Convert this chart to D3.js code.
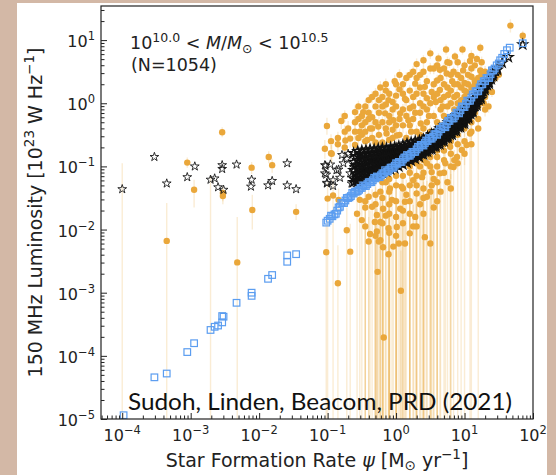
<!DOCTYPE html>
<html>
<head>
<meta charset="utf-8">
<script src="https://cdn.jsdelivr.net/npm/d3@7"></script>
<style>
  body { margin: 0; background: #d3b8a6; }
  svg { display: block; }
</style>
</head>
<body>
<div id="chart"></div>
<script>
// values, stored as log10(SFR), log10(L150)
const xTickExps = [-4, -3, -2, -1, 0, 1, 2];
const yTickExps = [-5, -4, -3, -2, -1, 0, 1];

// orange: measured luminosity [logSFR, logL, log lower end of bar, log upper end of bar]
const orange = [
  [1.67,1.23,1.12,1.33],[1.85,1.07,0.98,1.15],[1.23,0.88,0.80,0.95],[0.97,0.85,0.77,0.92],
  [0.73,0.85,0.77,0.93],[0.50,0.79,0.70,0.87],[0.62,0.71,0.63,0.79],[0.86,0.74,0.66,0.81],
  [0.78,0.64,0.56,0.72],[1.08,0.67,0.59,0.74],[0.30,0.62,0.52,0.71],[0.55,0.55,0.46,0.63],
  [0.64,0.53,0.44,0.61],[0.74,0.47,0.38,0.55],[0.84,0.50,0.42,0.58],[0.98,0.52,0.44,0.60],
  [1.15,0.36,0.27,0.44],[1.23,0.52,0.44,0.60],[1.32,0.18,0.10,0.26],[1.40,0.18,0.10,0.26],
  [-0.02,0.35,0.25,0.45],[-0.23,0.25,0.14,0.35],[0.28,0.31,0.21,0.40],[0.42,0.26,0.16,0.35],
  [0.52,0.18,0.08,0.27],[0.64,0.21,0.11,0.30],[0.76,0.13,0.03,0.22],[0.89,0.13,0.04,0.22],
  [1.03,0.18,0.09,0.27],[-0.11,0.05,-0.06,0.15],[0.13,0.07,-0.04,0.17],[0.35,0.00,-0.11,0.10],
  [0.20,-0.08,-0.19,0.02],[0.06,-0.16,-0.28,-0.05],[-0.60,-0.14,-0.26,-0.03],[-0.48,-0.14,-0.26,-0.03],
  [-0.16,-0.16,-0.28,-0.05],[-0.04,-0.27,-0.40,-0.15],[0.18,-0.27,-0.39,-0.16],[-0.26,-0.37,-0.50,-0.25],
  [-1.01,-0.36,-0.50,-0.23],[-0.38,-0.40,-0.53,-0.28],[-0.53,-0.45,-0.58,-0.33],[-0.14,-0.48,-0.62,-0.35],
  [0.01,-0.51,-0.65,-0.38],[-0.67,-0.56,-0.70,-0.43],[-1.04,-0.72,-0.88,-0.58],[-0.94,-0.80,-0.96,-0.66],
  [-0.74,-0.59,-0.74,-0.46],[-0.60,-0.66,-0.81,-0.52],[1.08,-0.48,-6,-0.36],[0.96,-0.74,-0.90,-0.60],
  [1.03,-0.66,-0.81,-0.53],[0.79,-0.69,-6,-0.55],[0.89,-0.85,-1.02,-0.70],[0.72,-0.95,-6,-0.79],
  [0.84,-1.01,-6,-0.84],[0.52,-1.09,-6,-0.90],[0.64,-1.11,-6,-0.93],[0.38,-1.17,-6,-0.97],
  [0.25,-1.22,-6,-1.02],[0.52,-1.30,-6,-1.08],[0.08,-1.32,-6,-1.10],[-0.09,-1.35,-6,-1.12],
  [-0.23,-1.40,-6,-1.16],[0.30,-1.43,-6,-1.19],[0.45,-1.48,-6,-1.23],[-0.40,-1.48,-6,-1.23],
  [-0.53,-1.53,-6,-1.27],[-0.06,-1.53,-6,-1.27],[0.13,-1.56,-6,-1.30],[-0.92,-1.46,-6,-1.21],
  [-0.35,-1.64,-6,-1.36],[-0.19,-1.67,-6,-1.38],[0.06,-1.67,-6,-1.38],[-0.57,-1.75,-6,-1.45],
  [-0.28,-1.77,-6,-1.46],[0.28,-1.80,-6,-1.48],[-0.72,-2.01,-6,-1.65],[-0.31,-1.88,-6,-1.55],
  [-0.23,-1.88,-6,-1.55],[-0.11,-1.98,-6,-1.63],[0.01,-1.96,-6,-1.62],[0.20,-2.06,-6,-1.70],
  [0.42,-2.12,-6,-1.74],[-0.23,-2.17,-6,-1.78],[-0.40,-2.19,-6,-1.80],[-0.04,-2.27,-6,-1.85],
  [0.13,-2.22,-6,-1.82],[-0.38,-2.07,-6,-1.70],[-0.28,-2.03,-6,-1.67],[-0.25,-2.19,-6,-1.80],
  [-0.19,-2.28,-6,-1.86],[-0.11,-2.39,-6,-1.94],[0.04,-2.22,-6,-1.82],[0.50,-2.22,-6,-1.82],
  [-1.02,-2.36,-6,-1.92],[-0.67,-2.35,-6,-1.91],[-0.27,-2.67,-6,-2.12],[-0.85,-2.85,-6,-2.25],
  [0.07,-2.97,-6,-2.33],[-0.18,-3.71,-6,-2.80],[-1.00,-1.51,-6,-1.25],[-0.84,-1.53,-1.75,-1.35],
  [-0.95,-0.79,-0.93,-0.66],[-0.45,-0.30,-0.42,-0.19],[-0.35,-0.22,-0.34,-0.11],[-0.30,-0.05,-0.16,0.05],
  [-0.15,-0.02,-0.13,0.08],[0.00,0.12,0.02,0.22],[0.10,-0.35,-0.47,-0.24],[0.22,-0.45,-0.58,-0.33],
  [0.28,-0.15,-0.27,-0.04],[0.36,-0.32,-0.44,-0.21],[0.40,-0.05,-0.16,0.05],[0.45,0.08,-0.02,0.18],
  [0.48,-0.20,-0.32,-0.09],[0.58,0.02,-0.08,0.12],[0.60,0.36,0.27,0.45],[0.70,0.30,0.21,0.39],
  [0.35,0.45,0.36,0.54],[0.15,0.40,0.31,0.49],[0.05,0.22,0.12,0.32],[-0.10,-0.58,-0.72,-0.45],
  [-0.20,-0.62,-0.76,-0.49],[-0.42,-0.58,-0.72,-0.45],[-0.50,-0.35,-0.47,-0.24],[-0.80,-0.28,-0.41,-0.16],
  [-0.70,-0.40,-0.53,-0.28],[0.68,-0.05,-0.16,0.05],[0.90,0.30,0.21,0.39],[1.00,0.32,0.23,0.41],
  [1.10,0.42,0.34,0.50],[0.82,0.35,0.26,0.44],[0.95,-0.30,-6,-0.19],[1.15,-0.15,-0.26,-0.05],
  [1.20,-0.25,-0.36,-0.15],[1.28,0.00,-0.10,0.09],[1.35,-0.05,-0.15,0.04],[1.45,0.40,0.32,0.48],
  [1.50,0.45,0.37,0.53],[1.18,0.70,0.62,0.77],[0.40,0.68,0.59,0.76],[0.25,0.50,0.41,0.59],
  [-0.05,-0.42,-0.55,-0.30],[0.60,-0.85,-6,-0.71],[0.70,-0.75,-0.91,-0.61],[0.45,-0.95,-6,-0.79],
  [0.35,-1.00,-6,-0.83],[0.20,-1.10,-6,-0.91],[0.00,-1.15,-6,-0.96],[-0.15,-1.25,-6,-1.04],
  [1.10,-0.65,-6,-0.51],[0.55,-1.20,-6,-1.00],[0.65,-1.40,-6,-1.16],[0.40,-1.35,-6,-1.12],
  [0.15,-1.45,-6,-1.21],[-0.10,-1.60,-6,-1.33],[0.35,-1.60,-6,-1.33],[0.00,-1.80,-6,-1.49],
  [-0.45,-1.65,-6,-1.37],[-0.50,-1.85,-6,-1.53],[0.25,-1.95,-6,-1.61],[-0.15,-1.78,-6,-1.47],
  [0.55,-1.65,-6,-1.37],[0.75,-1.25,-6,-1.04],[0.85,-0.90,-1.08,-0.74],
  // low star formation rates
  [-3.05,-0.94,-1.02,-0.86],[-2.95,-1.37,-1.65,-1.21],[-2.54,-0.46,-0.54,-0.38],[-2.53,-1.42,-1.55,-1.32],
  [-2.53,-1.47,-1.60,-1.36],[-2.11,-1.02,-1.12,-0.93],[-2.10,-1.69,-2.00,-1.45],[-1.86,-0.85,-0.95,-0.76],
  [-1.81,-0.98,-1.10,-0.88],[-1.46,-1.72,-1.85,-1.60],[-3.35,-2.18,-6,-1.58],[-2.32,-2.52,-6,-1.80],
  // centres below the axis, only the bars show
  [-4.00,-5.60,-6,-0.95],[-2.71,-5.60,-6,-1.15]
];

// orange, the crowded cloud above the model band
const orangeAbove = [
  [-0.60,-0.30,-0.40,-0.21],[-0.60,-0.45,-0.56,-0.35],[-0.55,-0.25,-0.35,-0.16],[-0.55,-0.55,-0.66,-0.45],[-0.55,-0.05,-0.15,0.04],
  [-0.50,-0.20,-0.30,-0.11],[-0.50,-0.50,-0.61,-0.40],[-0.45,-0.05,-0.15,0.04],[-0.45,-0.45,-0.56,-0.35],[-0.45,-0.60,-0.72,-0.49],
  [-0.40,-0.25,-0.35,-0.16],[-0.40,0.05,-0.05,0.14],[-0.40,-0.15,-0.25,-0.06],[-0.35,-0.40,-0.51,-0.30],[-0.35,-0.55,-0.66,-0.45],
  [-0.35,0.10,0.00,0.19],[-0.30,-0.30,-0.40,-0.21],[-0.30,0.15,0.05,0.24],[-0.30,-0.62,-0.74,-0.51],[-0.25,-0.15,-0.25,-0.06],
  [-0.25,-0.50,-0.61,-0.40],[-0.25,0.05,-0.05,0.14],[-0.20,-0.30,-0.40,-0.21],[-0.20,0.10,0.00,0.19],[-0.20,-0.05,-0.15,0.04],
  [-0.15,-0.40,-0.51,-0.30],[-0.15,0.20,0.10,0.29],[-0.15,0.30,0.20,0.39],[-0.10,-0.20,-0.30,-0.11],[-0.10,-0.30,-0.40,-0.21],
  [-0.10,0.15,0.05,0.24],[-0.05,-0.10,-0.20,-0.01],[-0.05,0.02,-0.08,0.11],[-0.05,-0.55,-0.66,-0.45],[0.00,-0.35,-0.46,-0.25],
  [0.00,-0.05,-0.15,0.04],[0.00,0.30,0.20,0.39],[0.05,-0.25,-0.35,-0.16],[0.05,0.45,0.36,0.54],[0.05,-0.50,-0.61,-0.40],
  [0.10,-0.10,-0.20,-0.01],[0.10,0.15,0.05,0.24],[0.10,0.30,0.20,0.39],[0.15,-0.20,-0.30,-0.11],[0.15,-0.55,-0.66,-0.45],
  [0.15,0.05,-0.05,0.14],[0.20,-0.35,-0.46,-0.25],[0.20,0.20,0.10,0.29],[0.20,0.45,0.36,0.54],[0.25,-0.05,-0.15,0.04],
  [0.25,-0.25,-0.35,-0.16],[0.25,0.10,0.00,0.19],[0.30,-0.45,-0.56,-0.35],[0.30,0.15,0.05,0.24],[0.30,0.40,0.31,0.49],
  [0.35,-0.15,-0.25,-0.06],[0.35,0.25,0.15,0.34],[0.35,-0.50,-0.61,-0.40],[0.40,-0.40,-0.51,-0.30],[0.40,0.15,0.05,0.24],
  [0.40,0.50,0.41,0.59],[0.45,-0.10,-0.20,-0.01],[0.45,-0.30,-0.40,-0.21],[0.45,0.35,0.26,0.44],[0.50,0.00,-0.10,0.09],
  [0.50,-0.45,-0.56,-0.35],[0.50,0.55,0.46,0.64],[0.55,-0.20,-0.30,-0.11],[0.55,0.30,0.21,0.39],[0.55,0.10,0.00,0.19],
  [0.60,-0.30,-0.40,-0.21],[0.60,0.15,0.05,0.24],[0.60,0.60,0.51,0.69],[0.65,-0.10,-0.20,-0.01],[0.65,0.40,0.31,0.49],
  [0.65,0.05,-0.05,0.14],[0.70,-0.20,-0.30,-0.11],[0.70,0.10,0.00,0.19],[0.70,0.55,0.46,0.64],[0.75,-0.05,-0.15,0.04],
  [0.75,0.25,0.16,0.34],[0.75,0.65,0.56,0.74],[0.80,0.00,-0.10,0.09],[0.80,0.20,0.11,0.29],[0.80,0.45,0.36,0.54],
  [0.85,-0.10,-0.20,-0.01],[0.85,0.10,0.01,0.19],[0.85,0.30,0.21,0.39],[0.90,0.00,-0.10,0.09],[0.90,0.45,0.36,0.54],
  [0.90,0.65,0.56,0.74],[0.95,0.05,-0.05,0.14],[0.95,0.25,0.16,0.34],[0.95,0.40,0.31,0.49],[1.00,0.10,0.01,0.19],
  [1.00,0.60,0.51,0.69],[1.00,0.20,0.11,0.29],[1.05,0.30,0.21,0.39],[1.05,0.45,0.36,0.54],[1.10,0.25,0.16,0.34],
  [1.10,0.55,0.46,0.64],[1.10,0.75,0.66,0.84],[1.15,0.30,0.21,0.39],[1.15,0.60,0.51,0.69],[1.20,0.40,0.31,0.49],
  [1.20,0.35,0.26,0.44],[1.25,0.45,0.36,0.54],[1.25,0.65,0.56,0.74],[1.30,0.50,0.41,0.59],[-0.75,-0.45,-0.56,-0.35],
  [-0.75,-0.70,-0.82,-0.59],[-0.75,-0.20,-0.30,-0.11],[-0.85,-0.55,-0.66,-0.45],[-0.85,-0.65,-0.77,-0.54],[-0.95,-0.60,-0.72,-0.49]
];

// orange, below the model band
const orangeBelow = [
  [-0.45,-1.55,-6,-1.28],[-0.45,-1.95,-6,-1.60],[-0.30,-1.45,-6,-1.20],[-0.30,-1.60,-6,-1.33],[-0.30,-2.10,-6,-1.72],
  [-0.20,-1.25,-6,-1.04],[-0.20,-1.50,-6,-1.25],[-0.20,-1.90,-6,-1.56],[-0.10,-1.20,-1.42,-1.00],[-0.10,-1.40,-6,-1.16],
  [-0.10,-1.75,-6,-1.45],[-0.10,-2.05,-6,-1.68],[0.00,-1.30,-6,-1.08],[0.00,-1.55,-6,-1.29],[0.00,-2.10,-6,-1.72],
  [0.10,-1.15,-1.37,-0.96],[0.10,-1.35,-6,-1.12],[0.10,-1.70,-6,-1.41],[0.10,-1.90,-6,-1.56],[0.20,-1.00,-1.20,-0.83],
  [0.20,-1.30,-6,-1.08],[0.20,-1.55,-6,-1.29],[0.20,-1.75,-6,-1.45],[0.30,-0.95,-1.14,-0.79],[0.30,-1.15,-6,-0.96],
  [0.30,-1.30,-6,-1.08],[0.30,-1.95,-6,-1.60],[0.40,-0.90,-1.08,-0.74],[0.40,-1.10,-6,-0.91],[0.40,-1.50,-6,-1.25],
  [0.40,-1.75,-6,-1.45],[0.50,-0.85,-1.02,-0.70],[0.50,-1.00,-6,-0.83],[0.50,-1.40,-6,-1.16],[0.60,-0.75,-0.91,-0.61],
  [0.60,-1.00,-6,-0.83],[0.60,-1.25,-6,-1.04],[0.60,-1.55,-6,-1.29],[0.70,-0.65,-0.80,-0.52],[0.70,-0.90,-1.08,-0.74],
  [0.70,-1.10,-6,-0.91],[0.80,-0.60,-0.75,-0.47],[0.80,-0.80,-6,-0.65],[0.80,-1.00,-1.20,-0.83],[0.80,-1.35,-6,-1.12],
  [0.90,-0.50,-0.64,-0.37],[0.90,-0.65,-0.80,-0.52],[0.90,-0.95,-6,-0.79],[1.00,-0.40,-0.53,-0.28],[1.00,-0.60,-6,-0.47],
  [1.00,-0.80,-0.98,-0.65],[1.10,-0.30,-0.42,-0.19],[1.10,-0.45,-0.59,-0.33],[1.20,-0.05,-0.16,0.05],[1.20,-0.40,-6,-0.28],
  [1.30,0.10,0.00,0.19],[1.30,-0.10,-0.21,0.00]
];

// blue open squares
const blueLow = [
  [-3.98,-4.94],[-3.53,-4.34],[-3.35,-4.28],[-3.05,-3.94],[-2.95,-3.80],[-2.71,-3.59],[-2.65,-3.54],
  [-2.60,-3.52],[-2.54,-3.47],[-2.54,-3.37],[-2.52,-3.38],[-2.33,-3.16],[-2.11,-3.05],[-2.11,-3.00],
  [-1.87,-2.78],[-1.81,-2.72],[-1.59,-2.51],[-1.59,-2.41],[-1.46,-2.39]
];
const blueBand = [
  [-1.02,-1.89],[-1.00,-1.86],[-0.97,-1.83],[-0.93,-1.79],[-0.90,-1.76],[-0.86,-1.70],[-0.82,-1.64],
  [-0.78,-1.58],[-0.74,-1.54],[-0.70,-1.50],[-0.66,-1.47],[-0.62,-1.43],[-0.58,-1.40],[-0.54,-1.37],
  [-0.50,-1.34],[-0.46,-1.31],[-0.42,-1.28],[-0.38,-1.25],[-0.34,-1.22],[-0.30,-1.19],[-0.26,-1.17],
  [-0.22,-1.14],[-0.18,-1.11],[-0.14,-1.08],[-0.10,-1.05],[-0.06,-1.02],[-0.02,-0.99],[0.02,-0.96],
  [0.06,-0.93],[0.10,-0.89],[0.14,-0.86],[0.18,-0.83],[0.22,-0.80],[0.26,-0.77],[0.30,-0.73],
  [0.34,-0.70],[0.38,-0.66],[0.42,-0.63],[0.46,-0.60],[0.50,-0.56],[0.54,-0.53],[0.58,-0.49],
  [0.62,-0.45],[0.66,-0.41],[0.70,-0.37],[0.74,-0.33],[0.78,-0.28],[0.82,-0.24],[0.86,-0.20],
  [0.90,-0.15],[0.94,-0.11],[0.98,-0.06],[1.02,-0.01],[1.06,0.04],[1.10,0.09],[1.14,0.14],
  [1.18,0.19],[1.22,0.25],[1.26,0.30],[1.30,0.35],[1.34,0.40],[1.38,0.46],[1.42,0.52],
  [1.47,0.60],[1.52,0.68],[1.58,0.78],[1.66,0.88],[1.85,0.95],
  [-0.95,-1.78],[-0.80,-1.58],[-0.64,-1.42],[-0.48,-1.30],[-0.32,-1.18],[-0.16,-1.06],[0.00,-0.95],
  [0.16,-0.82],[0.32,-0.69],[0.48,-0.55],[0.64,-0.41],[0.80,-0.23],[0.96,-0.05],[1.12,0.14],[1.28,0.35],
  [-0.88,-1.75],[-0.84,-1.65],[-0.76,-1.58],[-0.72,-1.50],[-0.68,-1.49],[-0.60,-1.40],[-0.56,-1.39],
  [-0.52,-1.34],[-0.44,-1.31],[-0.40,-1.25],[-0.36,-1.25],[-0.28,-1.16],[-0.24,-1.17],[-0.20,-1.11],
  [-0.12,-1.08],[-0.08,-1.02],[-0.04,-1.02],[0.04,-0.93],[0.08,-0.93],[0.12,-0.86],[0.20,-0.83],
  [0.24,-0.77],[0.28,-0.77],[0.36,-0.66],[0.40,-0.67],[0.44,-0.59],[0.52,-0.56],[0.56,-0.49],
  [0.60,-0.50],[0.68,-0.37],[0.72,-0.38],[0.76,-0.28],[0.84,-0.24],[0.88,-0.15],[0.92,-0.16],
  [1.00,-0.06],[1.04,0.04],[1.08,0.04],[1.16,0.19],[1.20,0.19],[1.24,0.30],[1.32,0.40],[1.36,0.40],
  [1.40,0.52],[1.44,0.55],[1.50,0.63],[1.55,0.72],[1.62,0.84]
];

// black open stars
const starsLow = [
  [-4.00,-1.36],[-3.53,-0.85],[-3.35,-1.27],[-3.05,-1.17],[-2.94,-1.00],[-2.71,-1.21],[-2.65,-1.19],
  [-2.60,-1.33],[-2.54,-0.98],[-2.54,-1.04],[-2.52,-1.37],[-2.33,-0.97],[-2.11,-1.21],[-2.12,-1.32],
  [-1.87,-1.30],[-1.81,-1.23],[-1.59,-0.95],[-1.59,-1.30],[-1.46,-1.36]
];
const starsCluster = [
  [-1.04,-0.98],[-1.04,-1.11],[-1.01,-1.27],[-0.92,-1.22],[-0.87,-1.06],[-0.77,-0.95],[-0.79,-0.82],
  [-0.72,-0.88],[-0.67,-1.11],[-0.62,-1.01],[-0.57,-1.22],[-0.65,-1.27],[-1.03,-0.99],[-0.96,-0.97],
  [-0.84,-1.05],[-1.02,-1.13],[-1.01,-1.26],[-0.92,-1.31],[-0.70,-0.80],[-0.82,-1.18]
];
// dense band: [logSFR, [logL ...]]
const starBand = [
  [-0.62,[-0.79,-0.93,-1.06,-1.19,-1.25]],[-0.56,[-0.76,-0.90,-1.03,-1.15,-1.24]],
  [-0.50,[-0.75,-0.88,-1.00,-1.12,-1.22]],[-0.44,[-0.74,-0.86,-0.98,-1.09,-1.19]],
  [-0.38,[-0.73,-0.85,-0.96,-1.07,-1.17]],[-0.32,[-0.73,-0.84,-0.95,-1.05,-1.14]],
  [-0.26,[-0.72,-0.83,-0.93,-1.03,-1.12]],[-0.20,[-0.71,-0.82,-0.92,-1.01,-1.10]],
  [-0.14,[-0.71,-0.81,-0.90,-0.99,-1.08]],[-0.08,[-0.70,-0.80,-0.89,-0.97,-1.05]],
  [-0.02,[-0.69,-0.78,-0.87,-0.95,-1.03]],[0.04,[-0.68,-0.77,-0.85,-0.93,-1.00]],
  [0.10,[-0.66,-0.75,-0.83,-0.90,-0.97]],[0.16,[-0.64,-0.73,-0.81,-0.88,-0.94]],
  [0.22,[-0.62,-0.71,-0.79,-0.86,-0.91]],[0.28,[-0.60,-0.69,-0.76,-0.83,-0.88]],
  [0.34,[-0.59,-0.67,-0.74,-0.80,-0.85]],[0.40,[-0.57,-0.65,-0.71,-0.77,-0.81]],
  [0.46,[-0.53,-0.61,-0.68,-0.73,-0.77]],[0.52,[-0.49,-0.57,-0.64,-0.70,-0.73]],
  [0.58,[-0.45,-0.53,-0.60,-0.66,-0.69]],[0.64,[-0.40,-0.48,-0.55,-0.61,-0.65]],
  [0.70,[-0.35,-0.43,-0.50,-0.56,-0.60]],[0.76,[-0.30,-0.38,-0.45,-0.51,-0.55]],
  [0.82,[-0.25,-0.33,-0.40,-0.46,-0.50]],[0.88,[-0.19,-0.27,-0.34,-0.40,-0.44]],
  [0.94,[-0.14,-0.22,-0.29,-0.34,-0.38]],[1.00,[-0.08,-0.16,-0.23,-0.28,-0.32]],
  [1.06,[-0.02,-0.10,-0.16,-0.21,-0.24]],[1.12,[0.05,-0.02,-0.08,-0.12,-0.14]],
  [1.18,[0.13,0.06,0.01,-0.03]],[1.24,[0.21,0.15,0.10,0.07]],[1.30,[0.30,0.25,0.21]],
  [1.36,[0.38,0.34,0.31]],[1.42,[0.47,0.43]],[1.48,[0.56,0.53]],[1.55,[0.64]],[1.64,[0.73]],[1.85,[0.93]],
  [-0.59,[-0.84,-0.98,-1.11,-1.22]],[-0.53,[-0.81,-0.94,-1.06,-1.18]],[-0.47,[-0.80,-0.92,-1.04,-1.15]],
  [-0.41,[-0.79,-0.90,-1.02,-1.12]],[-0.35,[-0.78,-0.89,-1.00,-1.10]],[-0.29,[-0.77,-0.88,-0.98,-1.08]],
  [-0.23,[-0.76,-0.87,-0.97,-1.06]],[-0.17,[-0.76,-0.86,-0.95,-1.04]],[-0.11,[-0.75,-0.85,-0.93,-1.02]],
  [-0.05,[-0.74,-0.83,-0.91,-1.00]],[0.01,[-0.72,-0.81,-0.89,-0.97]],[0.07,[-0.71,-0.80,-0.87,-0.94]],
  [0.13,[-0.69,-0.78,-0.85,-0.92]],[0.19,[-0.67,-0.76,-0.83,-0.89]],[0.25,[-0.65,-0.73,-0.80,-0.86]],
  [0.31,[-0.63,-0.71,-0.78,-0.83]],[0.37,[-0.61,-0.69,-0.75,-0.80]],[0.43,[-0.58,-0.66,-0.72,-0.77]],
  [0.49,[-0.54,-0.62,-0.68,-0.73]],[0.55,[-0.50,-0.58,-0.64,-0.69]],[0.61,[-0.45,-0.53,-0.60,-0.65]],
  [0.67,[-0.40,-0.48,-0.55,-0.60]],[0.73,[-0.35,-0.43,-0.50,-0.55]],[0.79,[-0.30,-0.38,-0.45,-0.50]],
  [0.85,[-0.24,-0.32,-0.39,-0.44]],[0.91,[-0.18,-0.26,-0.33,-0.38]],[0.97,[-0.13,-0.20,-0.27,-0.32]],
  [1.03,[-0.07,-0.14,-0.20,-0.25]],[1.09,[0.00,-0.07,-0.13,-0.17]],[1.15,[0.08,0.02,-0.04]],
  [1.21,[0.17,0.11,0.05]],[1.27,[0.25,0.19]],[1.33,[0.34,0.29]],[1.39,[0.43,0.38]],[1.45,[0.51]]
];

const W = 556, H = 475;
const P = v => Math.pow(10, v);
const frame = { left: 101, right: 533, top: 6, bottom: 419 };

const svg = d3.select("#chart").append("svg").attr("width", W).attr("height", H);
svg.append("rect").attr("width", W).attr("height", H).attr("fill", "#d3b8a6");
svg.append("rect").attr("x", 17).attr("y", 3).attr("width", 530).attr("height", H - 3).attr("fill", "#fff");

const x = d3.scaleLog().domain([P(-4.31), 100]).range([frame.left, frame.right]);
const y = d3.scaleLog().domain([1e-5, P(1.54)]).range([frame.bottom, frame.top]);

svg.append("clipPath").attr("id", "clip").append("rect")
  .attr("x", frame.left).attr("y", frame.top)
  .attr("width", frame.right - frame.left).attr("height", frame.bottom - frame.top);

const plot = svg.append("g").attr("clip-path", "url(#clip)");
const allOrange = orange.concat(orangeAbove, orangeBelow);

// error bars
plot.append("g").selectAll("line").data(allOrange).join("line")
  .attr("x1", d => x(P(d[0]))).attr("x2", d => x(P(d[0])))
  .attr("y1", d => y(P(d[2]))).attr("y2", d => y(P(d[3])))
  .attr("stroke", "rgba(234,167,58,0.22)").attr("stroke-width", 1.4);

plot.append("g").selectAll("circle").data(allOrange).join("circle")
  .attr("cx", d => x(P(d[0]))).attr("cy", d => y(P(d[1])))
  .attr("r", 3.2).attr("fill", "#eaa73a");

// isolated stars are thin outlines, the crowded band reads as solid black
const starThin = d3.symbol().type(d3.symbolStar).size(24);
const starBold = d3.symbol().type(d3.symbolStar).size(28);
plot.append("g").selectAll("path").data(starsLow.concat(starsCluster)).join("path")
  .attr("transform", d => `translate(${x(P(d[0]))},${y(P(d[1]))})`)
  .attr("d", starThin).attr("fill", "none").attr("stroke", "#1a1a1a").attr("stroke-width", 0.9);
plot.append("g").selectAll("path").data(starBand.flatMap(c => c[1].map(v => [c[0], v]))).join("path")
  .attr("transform", d => `translate(${x(P(d[0]))},${y(P(d[1]))})`)
  .attr("d", starBold).attr("fill", "none").attr("stroke", "#111").attr("stroke-width", 1.3);

const blue = blueLow.concat(blueBand);
plot.append("g").selectAll("rect").data(blue).join("rect")
  .attr("x", d => x(P(d[0])) - 3.3).attr("y", d => y(P(d[1])) - 3.3)
  .attr("width", 6.6).attr("height", 6.6)
  .attr("fill", "none").attr("stroke", "#5b9df0").attr("stroke-width", 1.2);

// axes, ticks pointing inwards
const minorOf = (lo, hi) => d3.range(lo, hi).flatMap(e => d3.range(2, 10).map(k => k * P(e)));
const xMinor = minorOf(-5, 2).filter(v => v > x.domain()[0] && v < x.domain()[1]);
const yMinor = minorOf(-5, 2).filter(v => v > y.domain()[0] && v < y.domain()[1]);

const gx = svg.append("g").attr("transform", `translate(0,${frame.bottom})`);
gx.append("g").call(d3.axisBottom(x).tickValues(xTickExps.map(P)).tickSize(-6).tickFormat(""));
gx.append("g").call(d3.axisBottom(x).tickValues(xMinor).tickSize(-3.5).tickFormat(""));
const gy = svg.append("g").attr("transform", `translate(${frame.left},0)`);
gy.append("g").call(d3.axisLeft(y).tickValues(yTickExps.map(P)).tickSize(-6).tickFormat(""));
gy.append("g").call(d3.axisLeft(y).tickValues(yMinor).tickSize(-3.5).tickFormat(""));
svg.selectAll(".domain").remove();
svg.selectAll(".tick line").attr("stroke", "#222");

svg.append("rect")
  .attr("x", frame.left).attr("y", frame.top)
  .attr("width", frame.right - frame.left).attr("height", frame.bottom - frame.top)
  .attr("fill", "none").attr("stroke", "#222").attr("stroke-width", 1.2);

const font = "DejaVu Sans, sans-serif";
const expText = e => (e < 0 ? "\u2212" + (-e) : String(e));

function powLabel(sel, exp) {
  sel.append("tspan").text("10");
  sel.append("tspan").attr("dy", -7).attr("font-size", 11.5).text(expText(exp));
}

svg.append("g").selectAll("text").data(xTickExps).join("text")
  .attr("x", d => x(P(d))).attr("y", 441)
  .attr("text-anchor", "middle").attr("font-family", font).attr("font-size", 16).attr("fill", "#222")
  .each(function (d) { powLabel(d3.select(this), d); });

svg.append("g").selectAll("text").data(yTickExps).join("text")
  .attr("x", 95).attr("y", d => y(P(d)) + 7)
  .attr("text-anchor", "end").attr("font-family", font).attr("font-size", 16).attr("fill", "#222")
  .each(function (d) { powLabel(d3.select(this), d); });

// axis titles
const yl = svg.append("text")
  .attr("transform", `translate(42,${(frame.top + frame.bottom) / 2}) rotate(-90)`)
  .attr("text-anchor", "middle").attr("font-family", font).attr("font-size", 19).attr("fill", "#222");
yl.append("tspan").text("150 MHz Luminosity [10");
yl.append("tspan").attr("dy", -8).attr("font-size", 13.5).text("23");
yl.append("tspan").attr("dy", 8).text(" W Hz");
yl.append("tspan").attr("dy", -8).attr("font-size", 13.5).text("\u22121");
yl.append("tspan").attr("dy", 8).text("]");

const xl = svg.append("text")
  .attr("x", (frame.left + frame.right) / 2).attr("y", 467)
  .attr("text-anchor", "middle").attr("font-family", font).attr("font-size", 19).attr("fill", "#222");
xl.append("tspan").text("Star Formation Rate ");
xl.append("tspan").attr("font-style", "italic").text("\u03c8");
xl.append("tspan").text(" [M");
xl.append("tspan").attr("dy", 3).attr("font-size", 13.5).text("\u2299");
xl.append("tspan").attr("dy", -3).text(" yr");
xl.append("tspan").attr("dy", -8).attr("font-size", 13.5).text("\u22121");
xl.append("tspan").attr("dy", 8).text("]");

// mass bin annotation
const a1 = svg.append("text").attr("x", 130).attr("y", 49)
  .attr("font-family", font).attr("font-size", 17.5).attr("fill", "#222");
a1.append("tspan").text("10");
a1.append("tspan").attr("dy", -7.5).attr("font-size", 12.5).text("10.0");
a1.append("tspan").attr("dy", 7.5).text(" < ");
a1.append("tspan").attr("font-style", "italic").text("M");
a1.append("tspan").text("/");
a1.append("tspan").attr("font-style", "italic").text("M");
a1.append("tspan").attr("dy", 3.5).attr("font-size", 12.5).text("\u2299");
a1.append("tspan").attr("dy", -3.5).text(" < 10");
a1.append("tspan").attr("dy", -7.5).attr("font-size", 12.5).text("10.5");

svg.append("text").attr("x", 131).attr("y", 71)
  .attr("font-family", font).attr("font-size", 17.5).attr("fill", "#222")
  .text("(N=1054)");

svg.append("text").attr("x", 128).attr("y", 410)
  .attr("font-family", "Lato, 'Open Sans', sans-serif").attr("font-size", 23).attr("fill", "#111")
  .attr("textLength", 384).attr("lengthAdjust", "spacingAndGlyphs")
  .text("Sudoh, Linden, Beacom, PRD (2021)");
</script>
</body>
</html>
